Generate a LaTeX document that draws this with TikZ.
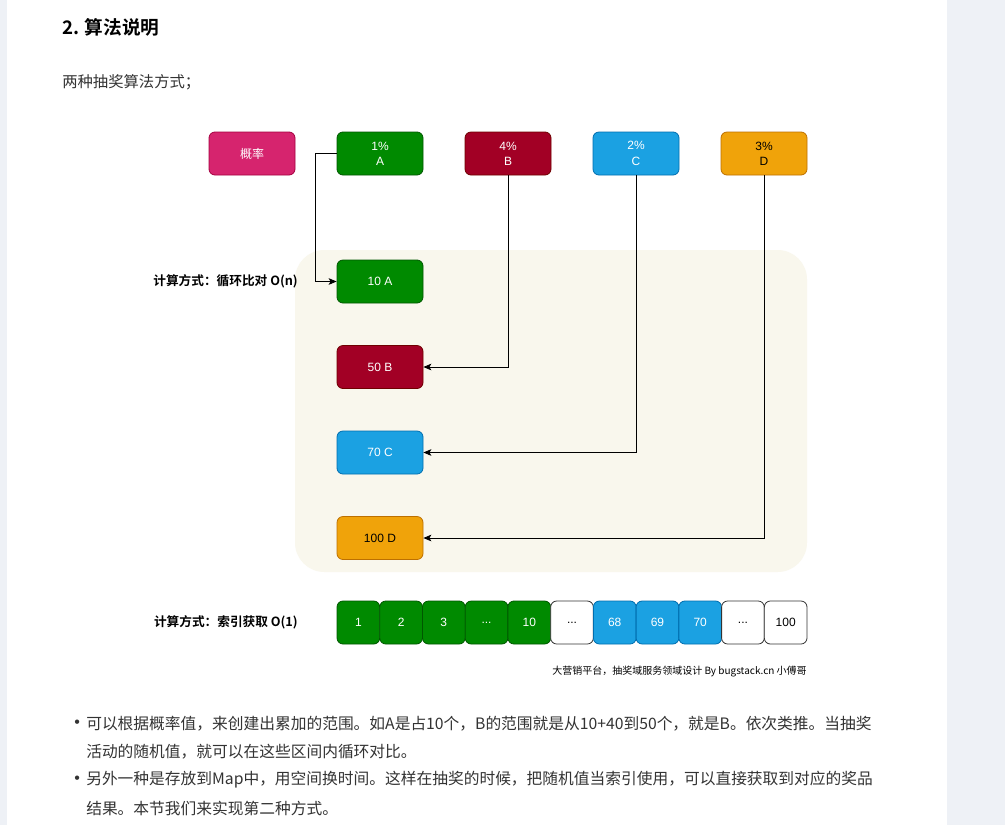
\documentclass[tikz,border=0pt]{standalone}
\usepackage{fontspec}
\setmainfont{Noto Sans CJK SC}[BoldFont={Noto Sans CJK SC Bold}]
\newfontfamily\latinsf{Liberation Sans}
\usepackage{tikz}
\usetikzlibrary{arrows.meta, positioning}
\usepackage{xcolor}
\definecolor{pagebg}{HTML}{EEF1F6}
\definecolor{panelbg}{HTML}{F9F7ED}
\definecolor{pinkfill}{HTML}{D6246E}
\definecolor{pinkline}{HTML}{A50040}
\definecolor{grnfill}{HTML}{008A00}
\definecolor{grnline}{HTML}{005700}
\definecolor{redfill}{HTML}{A20025}
\definecolor{redline}{HTML}{6F0000}
\definecolor{bluefill}{HTML}{1BA1E2}
\definecolor{blueline}{HTML}{006EAF}
\definecolor{orgfill}{HTML}{F0A30A}
\definecolor{orgline}{HTML}{BD7000}
\definecolor{bodytxt}{HTML}{333333}
\newcommand{\etcdots}{...}

\begin{document}
\begin{tikzpicture}[x=0.75pt, y=-0.75pt,
  box/.style={rectangle, rounded corners=4.5pt, draw, line width=0.6pt,
              minimum width=64.5pt, minimum height=32.25pt, inner sep=0pt,
              align=center, font=\latinsf\fontsize{9}{11.5}\selectfont},
  cell/.style={rectangle, rounded corners=4.5pt, draw, line width=0.6pt,
               minimum width=32pt, minimum height=32.25pt, inner sep=0pt,
               font=\latinsf\fontsize{9}{11.5}\selectfont},
  gcell/.style={cell, fill=grnfill, draw=grnline, text=white},
  bcell/.style={cell, fill=bluefill, draw=blueline, text=white},
  wcell/.style={cell, fill=white, draw=black!80, text=black},
  side/.style={anchor=east, inner sep=0pt, font=\fontsize{9.5}{12}\selectfont\bfseries},
  para/.style={anchor=west, inner sep=0pt, text=bodytxt, font=\fontsize{11.8}{14}\selectfont},
  arr/.style={-{Stealth[length=6pt, width=5pt, inset=1.5pt]}, line width=0.6pt}
]
\useasboundingbox (0,0) rectangle (1005,825);
\fill[pagebg] (0,0) rectangle (1005,825);
\fill[white] (7,0) rectangle (947,825);

\node[anchor=west, inner sep=0pt, font=\fontsize{14}{17}\selectfont\bfseries] (title) at (62,27) {2. 算法说明};
\node[para, font=\fontsize{11.5}{14}\selectfont] (intro) at (62,82) {两种抽奖算法方式；};

% panel behind the ranges
\fill[panelbg, rounded corners=22pt] (295,250) rectangle (807,572);

% probabilities
\node[box, fill=pinkfill, draw=pinkline, text=white, font=\fontsize{9}{11.5}\selectfont] (prob) at (252,153.5) {概率};
\node[box, fill=grnfill, draw=grnline, text=white] (pA) at (380,153.5) {1\%\\A};
\node[box, fill=redfill, draw=redline, text=white] (pB) at (508,153.5) {4\%\\B};
\node[box, fill=bluefill, draw=blueline, text=white] (pC) at (636,153.5) {2\%\\C};
\node[box, fill=orgfill, draw=orgline, text=black] (pD) at (764,153.5) {3\%\\D};

% ranges
\node[side] (loop) at (298,281.5) {计算方式：循环比对 O(n)};
\node[box, fill=grnfill, draw=grnline, text=white] (rA) at (380,281.5) {10 A};
\node[box, fill=redfill, draw=redline, text=white] (rB) at (380,367) {50 B};
\node[box, fill=bluefill, draw=blueline, text=white] (rC) at (380,452.5) {70 C};
\node[box, fill=orgfill, draw=orgline, text=black] (rD) at (380,538) {100 D};

\draw[arr] (pA.west) -- ++(-21,0) |- (rA.west);
\draw[arr] (pB.south) |- (rB.east);
\draw[arr] (pC.south) |- (rC.east);
\draw[arr] (pD.south) |- (rD.east);

% index table
\node[side] (index) at (298,622.5) {计算方式：索引获取 O(1)};
\foreach \lab/\sty [count=\i] in {1/gcell, 2/gcell, 3/gcell, \etcdots/gcell, 10/gcell,
    \etcdots/wcell, 68/bcell, 69/bcell, 70/bcell, \etcdots/wcell, 100/wcell}
  \node[\sty] (c\i) at ({337+21.36+(\i-1)*42.73},622.5) {\lab};

\node[anchor=east, inner sep=0pt, font=\fontsize{7.5}{9}\selectfont] (credit) at (807,672)
  {大营销平台，抽奖域服务领域设计 By bugstack.cn 小傅哥};

% notes
\node[para, font=\latinsf\fontsize{12}{14}\selectfont] (dot1) at (74,724) {•};
\node[para] (l1) at (86,724) {可以根据概率值，来创建出累加的范围。如A是占10个，B的范围就是从10+40到50个，就是B。依次类推。当抽奖};
\node[para] (l2) at (86,752) {活动的随机值，就可以在这些区间内循环对比。};
\node[para, font=\latinsf\fontsize{12}{14}\selectfont] (dot2) at (74,780) {•};
\node[para] (l3) at (86,780) {另外一种是存放到Map中，用空间换时间。这样在抽奖的时候，把随机值当索引使用，可以直接获取到对应的奖品};
\node[para] (l4) at (86,808) {结果。本节我们来实现第二种方式。};
\end{tikzpicture}
\end{document}
